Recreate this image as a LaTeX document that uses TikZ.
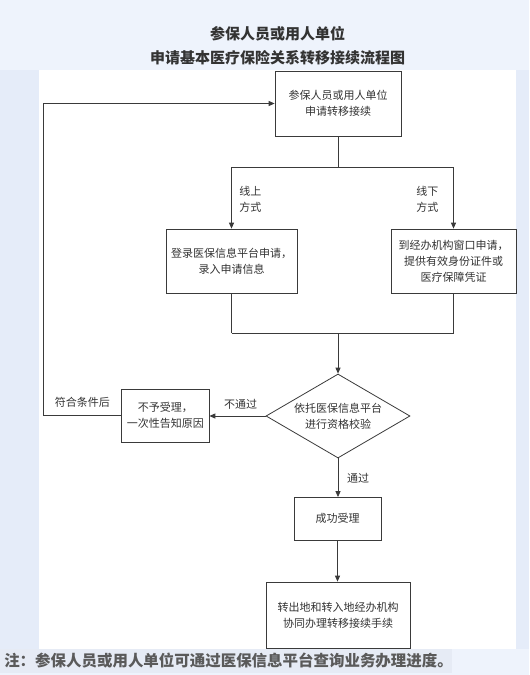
\documentclass[tikz,border=0pt]{standalone}
\usepackage{fontspec}
\setmainfont{Noto Sans CJK SC}
\usetikzlibrary{arrows.meta,shapes.geometric}
\definecolor{bgtop}{HTML}{EEF3FC}
\definecolor{bgside}{HTML}{E5ECF9}
\definecolor{notehl}{HTML}{E6EBF5}
\definecolor{ink}{HTML}{333333}
\definecolor{lineclr}{HTML}{3A3A3A}
\definecolor{notetxt}{HTML}{5A5A5A}
\begin{document}
\begin{tikzpicture}[x=0.75pt,y=-0.75pt,
  box/.style={draw=lineclr,line width=0.6pt,fill=white,inner sep=0pt,align=center,text=ink,font=\fontsize{8.25pt}{12pt}\selectfont},
  lbl/.style={inner sep=0pt,text=ink,font=\fontsize{8.25pt}{12pt}\selectfont},
  conn/.style={draw=lineclr,line width=0.6pt},
  arr/.style={conn,-{Triangle[length=4.5pt,width=3.8pt]}}]
\useasboundingbox (0,0) rectangle (529,675);
% backgrounds
\fill[bgtop] (0,0) rectangle (529,675);
\fill[bgside] (0,70) rectangle (39,649);
\fill[bgside] (516,70) rectangle (529,649);
\fill[white] (39,70) rectangle (516,649);
\fill[notehl] (0,649) rectangle (452,673);
% title
\node[inner sep=0pt,text=ink,font=\fontsize{11.25pt}{14pt}\selectfont\bfseries] (t1) at (277.5,34) {参保人员或用人单位};
\node[inner sep=0pt,text=ink,font=\fontsize{11.25pt}{14pt}\selectfont\bfseries] (t2) at (277.5,58) {申请基本医疗保险关系转移接续流程图};
% nodes
\node[box,minimum width=94.5pt,minimum height=48.75pt] (top) at (338,103.5) {参保人员或用人单位\\申请转移接续};
\node[box,minimum width=98.25pt,minimum height=48pt] (left) at (231.5,261) {登录医保信息平台申请，\\录入申请信息};
\node[box,minimum width=93.75pt,minimum height=48pt] (right) at (453.5,261) {到经办机构窗口申请，\\提供有效身份证件或\\医疗保障凭证};
\node[diamond,draw=lineclr,line width=0.6pt,fill=white,inner sep=0pt,minimum width=108pt,minimum height=63pt] (chk) at (338,416) {};
\node[lbl,align=center] (chktxt) at (chk.center) {依托医保信息平台\\进行资格校验};
\node[box,minimum width=65.6pt,minimum height=39.75pt] (rej) at (165.25,415.5) {不予受理，\\一次性告知原因};
\node[box,minimum width=65.25pt,minimum height=31.9pt] (ok) at (337.5,518.75) {成功受理};
\node[box,minimum width=108pt,minimum height=49.5pt] (fin) at (338,615) {转出地和转入地经办机构\\协同办理转移接续手续};
% split and merge coordinates
\coordinate (sL) at (231.5,167);
\coordinate (sR) at (453.5,167);
\coordinate (mL) at (231.5,333);
\coordinate (mR) at (453.5,333);
\coordinate (lp1) at (43,415.5);
\coordinate (lp2) at (43,103.5);
% connectors
\draw[conn] (top.south) -- (top.south |- sL);
\draw[conn] (sL) -- (sR);
\draw[arr] (sL) -- (left.north);
\draw[arr] (sR) -- (right.north);
\draw[conn] (left.south) -- (mL);
\draw[conn] (right.south) -- (mR);
\draw[conn] (mL) -- (mR);
\draw[arr] (top.south |- mL) -- (chk.north);
\draw[arr] (chk.west) -- (rej.east |- chk.west);
\draw[arr] (rej.west) -- (lp1) -- (lp2) -- (top.west);
\draw[arr] (chk.south) -- (chk.south |- ok.north);
\draw[arr] (ok.south) -- (ok.south |- fin.north);
% labels
\node[lbl,anchor=west,align=left] (lon) at (239,199) {线上\\方式};
\node[lbl,anchor=west,align=left] (loff) at (416,199) {线下\\方式};
\node[lbl] (lno) at (240.5,404) {不通过};
\node[lbl] (lback) at (82.5,402) {符合条件后};
\node[lbl] (lyes) at (358,478) {通过};
% note
\node[inner sep=0pt,anchor=west,text=notetxt,font=\fontsize{11.6pt}{14pt}\selectfont\bfseries] (note) at (4,661) {注：参保人员或用人单位可通过医保信息平台查询业务办理进度。};
\end{tikzpicture}
\end{document}
